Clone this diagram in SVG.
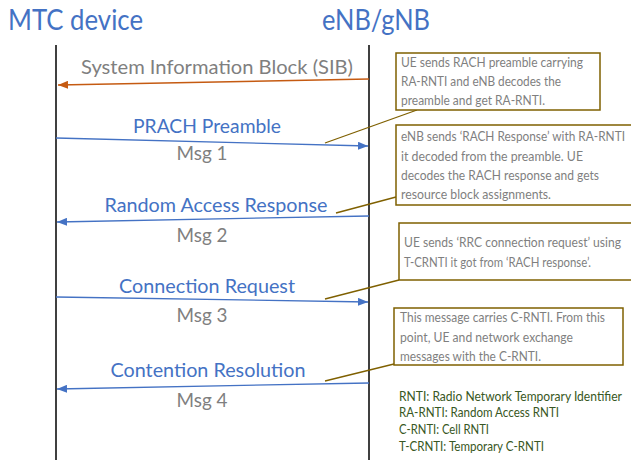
<svg xmlns="http://www.w3.org/2000/svg" width="631" height="460" viewBox="0 0 631 460">
  <style>
    text { font-family: Lato, "Open Sans", "Liberation Sans", sans-serif; }
    .title { font-size: 28px; fill: #4472c4; }
    .life { stroke: #404040; stroke-width: 2; }
    .msg { font-size: 18.5px; fill: #4472c4; text-anchor: middle; }
    .num { font-size: 19px; fill: #7f7f7f; text-anchor: middle; }
    .sib { font-size: 19px; fill: #7f7f7f; text-anchor: middle; }
    .blue { stroke: #4472c4; stroke-width: 1.3; fill: none; marker-end: url(#ah-blue); }
    .orange { stroke: #c55a11; stroke-width: 1.5; fill: none; marker-end: url(#ah-orange); }
    .lead { stroke: #7f6000; stroke-width: 1.3; fill: none; }
    .box { fill: #ffffff; stroke: #7f6000; stroke-width: 1.5; }
    .note { font-size: 12.5px; fill: #7f7f7f; }
    .legend { font-size: 12.5px; fill: #385723; }
  </style>
  <defs>
    <marker id="ah-blue" viewBox="0 0 10 8" refX="10" refY="4" markerWidth="10" markerHeight="8" markerUnits="userSpaceOnUse" orient="auto">
      <path d="M0,0 L10,4 L0,8 Z" fill="#4472c4"/>
    </marker>
    <marker id="ah-orange" viewBox="0 0 10 8" refX="10" refY="4" markerWidth="10" markerHeight="8" markerUnits="userSpaceOnUse" orient="auto">
      <path d="M0,0 L10,4 L0,8 Z" fill="#c55a11"/>
    </marker>
  </defs>

  <rect width="631" height="460" fill="#ffffff"/>

  <!-- participants -->
  <g id="mtc-device">
    <text class="title" x="8" y="30" textLength="135" lengthAdjust="spacingAndGlyphs">MTC device</text>
    <line class="life" x1="56" y1="45" x2="56" y2="460"/>
  </g>
  <g id="enb-gnb">
    <text class="title" x="322" y="30" textLength="108" lengthAdjust="spacingAndGlyphs">eNB/gNB</text>
    <line class="life" x1="369" y1="45" x2="369" y2="460"/>
  </g>

  <!-- messages -->
  <g id="connectors">
    <line class="orange" x1="369" y1="79" x2="58" y2="85"/>
    <line class="blue" x1="56" y1="138" x2="368" y2="146"/>
    <line class="blue" x1="369" y1="216" x2="57" y2="222"/>
    <line class="blue" x1="56" y1="297" x2="368" y2="302"/>
    <line class="blue" x1="369" y1="383" x2="57" y2="389"/>
    <!-- note leaders -->
    <line class="lead" x1="417" y1="110" x2="325" y2="143"/>
    <line class="lead" x1="396" y1="197" x2="336" y2="213"/>
    <line class="lead" x1="399" y1="280" x2="325" y2="299"/>
    <line class="lead" x1="394" y1="364" x2="325" y2="381"/>
  </g>

  <g id="msg-labels">
    <text class="sib" x="217" y="74" textLength="272" lengthAdjust="spacingAndGlyphs">System Information Block (SIB)</text>
    <text class="msg" x="207" y="133" textLength="148" lengthAdjust="spacingAndGlyphs">PRACH Preamble</text>
    <text class="num" x="202" y="160" textLength="51" lengthAdjust="spacingAndGlyphs">Msg 1</text>
    <text class="msg" x="216" y="212" textLength="223" lengthAdjust="spacingAndGlyphs">Random Access Response</text>
    <text class="num" x="202" y="242" textLength="51" lengthAdjust="spacingAndGlyphs">Msg 2</text>
    <text class="msg" x="207" y="293" textLength="176" lengthAdjust="spacingAndGlyphs">Connection Request</text>
    <text class="num" x="202" y="322" textLength="51" lengthAdjust="spacingAndGlyphs">Msg 3</text>
    <text class="msg" x="208" y="377" textLength="195" lengthAdjust="spacingAndGlyphs">Contention Resolution</text>
    <text class="num" x="202" y="407" textLength="51" lengthAdjust="spacingAndGlyphs">Msg 4</text>
  </g>

  <!-- notes -->
  <g id="note-msg1">
    <rect class="box" x="396" y="53" width="204" height="57"/>
    <text class="note" x="401" y="67" textLength="182" lengthAdjust="spacingAndGlyphs">UE sends RACH preamble carrying</text>
    <text class="note" x="401" y="86" textLength="160" lengthAdjust="spacingAndGlyphs">RA-RNTI and eNB decodes the</text>
    <text class="note" x="401" y="105" textLength="144" lengthAdjust="spacingAndGlyphs">preamble and get RA-RNTI.</text>
  </g>
  <g id="note-msg2">
    <rect class="box" x="396" y="125" width="250" height="80"/>
    <text class="note" x="401" y="141" textLength="224" lengthAdjust="spacingAndGlyphs">eNB sends ‘RACH Response’ with RA-RNTI</text>
    <text class="note" x="401" y="161" textLength="182" lengthAdjust="spacingAndGlyphs">it decoded from the preamble. UE</text>
    <text class="note" x="401" y="180" textLength="198" lengthAdjust="spacingAndGlyphs">decodes the RACH response and gets</text>
    <text class="note" x="401" y="199" textLength="150" lengthAdjust="spacingAndGlyphs">resource block assignments.</text>
  </g>
  <g id="note-msg3">
    <rect class="box" x="399" y="223" width="250" height="57"/>
    <text class="note" x="404" y="247" textLength="217" lengthAdjust="spacingAndGlyphs">UE sends ‘RRC connection request’ using</text>
    <text class="note" x="404" y="267" textLength="187" lengthAdjust="spacingAndGlyphs">T-CRNTI it got from ‘RACH response’.</text>
  </g>
  <g id="note-msg4">
    <rect class="box" x="394" y="308" width="229" height="57"/>
    <text class="note" x="400" y="322" textLength="205" lengthAdjust="spacingAndGlyphs">This message carries C-RNTI. From this</text>
    <text class="note" x="400" y="342" textLength="173" lengthAdjust="spacingAndGlyphs">point, UE and network exchange</text>
    <text class="note" x="400" y="361" textLength="141" lengthAdjust="spacingAndGlyphs">messages with the C-RNTI.</text>
  </g>

  <g id="legend">
    <text class="legend" x="399" y="401" textLength="223" lengthAdjust="spacingAndGlyphs">RNTI: Radio Network Temporary Identifier</text>
    <text class="legend" x="399" y="417" textLength="160" lengthAdjust="spacingAndGlyphs">RA-RNTI: Random Access RNTI</text>
    <text class="legend" x="399" y="434" textLength="90" lengthAdjust="spacingAndGlyphs">C-RNTI: Cell RNTI</text>
    <text class="legend" x="399" y="451" textLength="145" lengthAdjust="spacingAndGlyphs">T-CRNTI: Temporary C-RNTI</text>
  </g>
</svg>
